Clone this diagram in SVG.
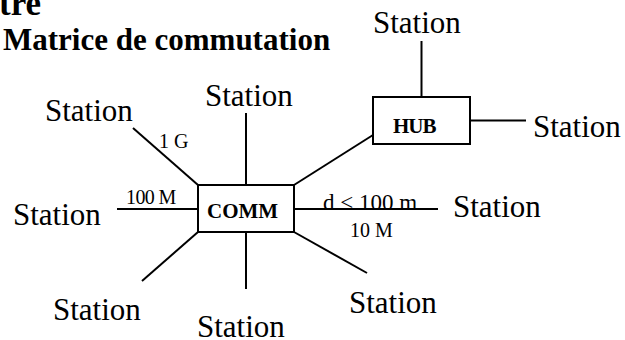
<svg xmlns="http://www.w3.org/2000/svg" width="625" height="340" viewBox="0 0 625 340">
<style>
text{font-family:"Liberation Serif","Times New Roman",serif;fill:#000}
.st{font-size:31px}
.lbl{font-size:20px}
.b{font-weight:bold}
.box{fill:#fff;stroke:#000;stroke-width:2}
.ln{stroke:#000;stroke-width:2;fill:none}
</style>
<rect width="625" height="340" fill="#fff"/>
<text class="b" x="-1" y="15" font-size="35">tre</text>
<text class="b" x="3" y="50" font-size="31">Matrice de commutation</text>
<g id="connectors">
<line class="ln" x1="246" y1="113" x2="246" y2="185"/>
<line class="ln" x1="133" y1="128" x2="198" y2="185"/>
<line class="ln" x1="117" y1="209" x2="198" y2="209"/>
<line class="ln" x1="198" y1="232" x2="142" y2="281"/>
<line class="ln" x1="246" y1="232" x2="246" y2="289"/>
<line class="ln" x1="294" y1="232" x2="367" y2="273"/>
<line class="ln" x1="294" y1="209" x2="438" y2="209"/>
<line class="ln" x1="294" y1="185" x2="373" y2="135"/>
<line class="ln" x1="421.5" y1="41" x2="421.5" y2="97"/>
<line class="ln" x1="470" y1="120.5" x2="526" y2="120.5"/>
<text class="lbl" x="159" y="148">1 G</text>
<text class="lbl" x="126" y="204" letter-spacing="-0.6">100 M</text>
<text x="323" y="210" font-size="23">d &lt; 100 m</text>
<text class="lbl" x="350" y="237">10 M</text>
</g>
<g id="comm">
<rect class="box" x="198" y="185" width="96" height="47"/>
<text class="b" x="207" y="218" font-size="21">COMM</text>
</g>
<g id="hub">
<rect class="box" x="373" y="97" width="97" height="47"/>
<text class="b" x="393" y="133" font-size="21" letter-spacing="-1">HUB</text>
</g>
<g id="station-hub-top"><text class="st" x="373" y="33">Station</text></g>
<g id="station-hub-right"><text class="st" x="533" y="137">Station</text></g>
<g id="station-top"><text class="st" x="205" y="106">Station</text></g>
<g id="station-top-left"><text class="st" x="45" y="121">Station</text></g>
<g id="station-left"><text class="st" x="13" y="225">Station</text></g>
<g id="station-bottom-left"><text class="st" x="53" y="320">Station</text></g>
<g id="station-bottom"><text class="st" x="197" y="337">Station</text></g>
<g id="station-bottom-right"><text class="st" x="349" y="313">Station</text></g>
<g id="station-right"><text class="st" x="453" y="217">Station</text></g>
</svg>
